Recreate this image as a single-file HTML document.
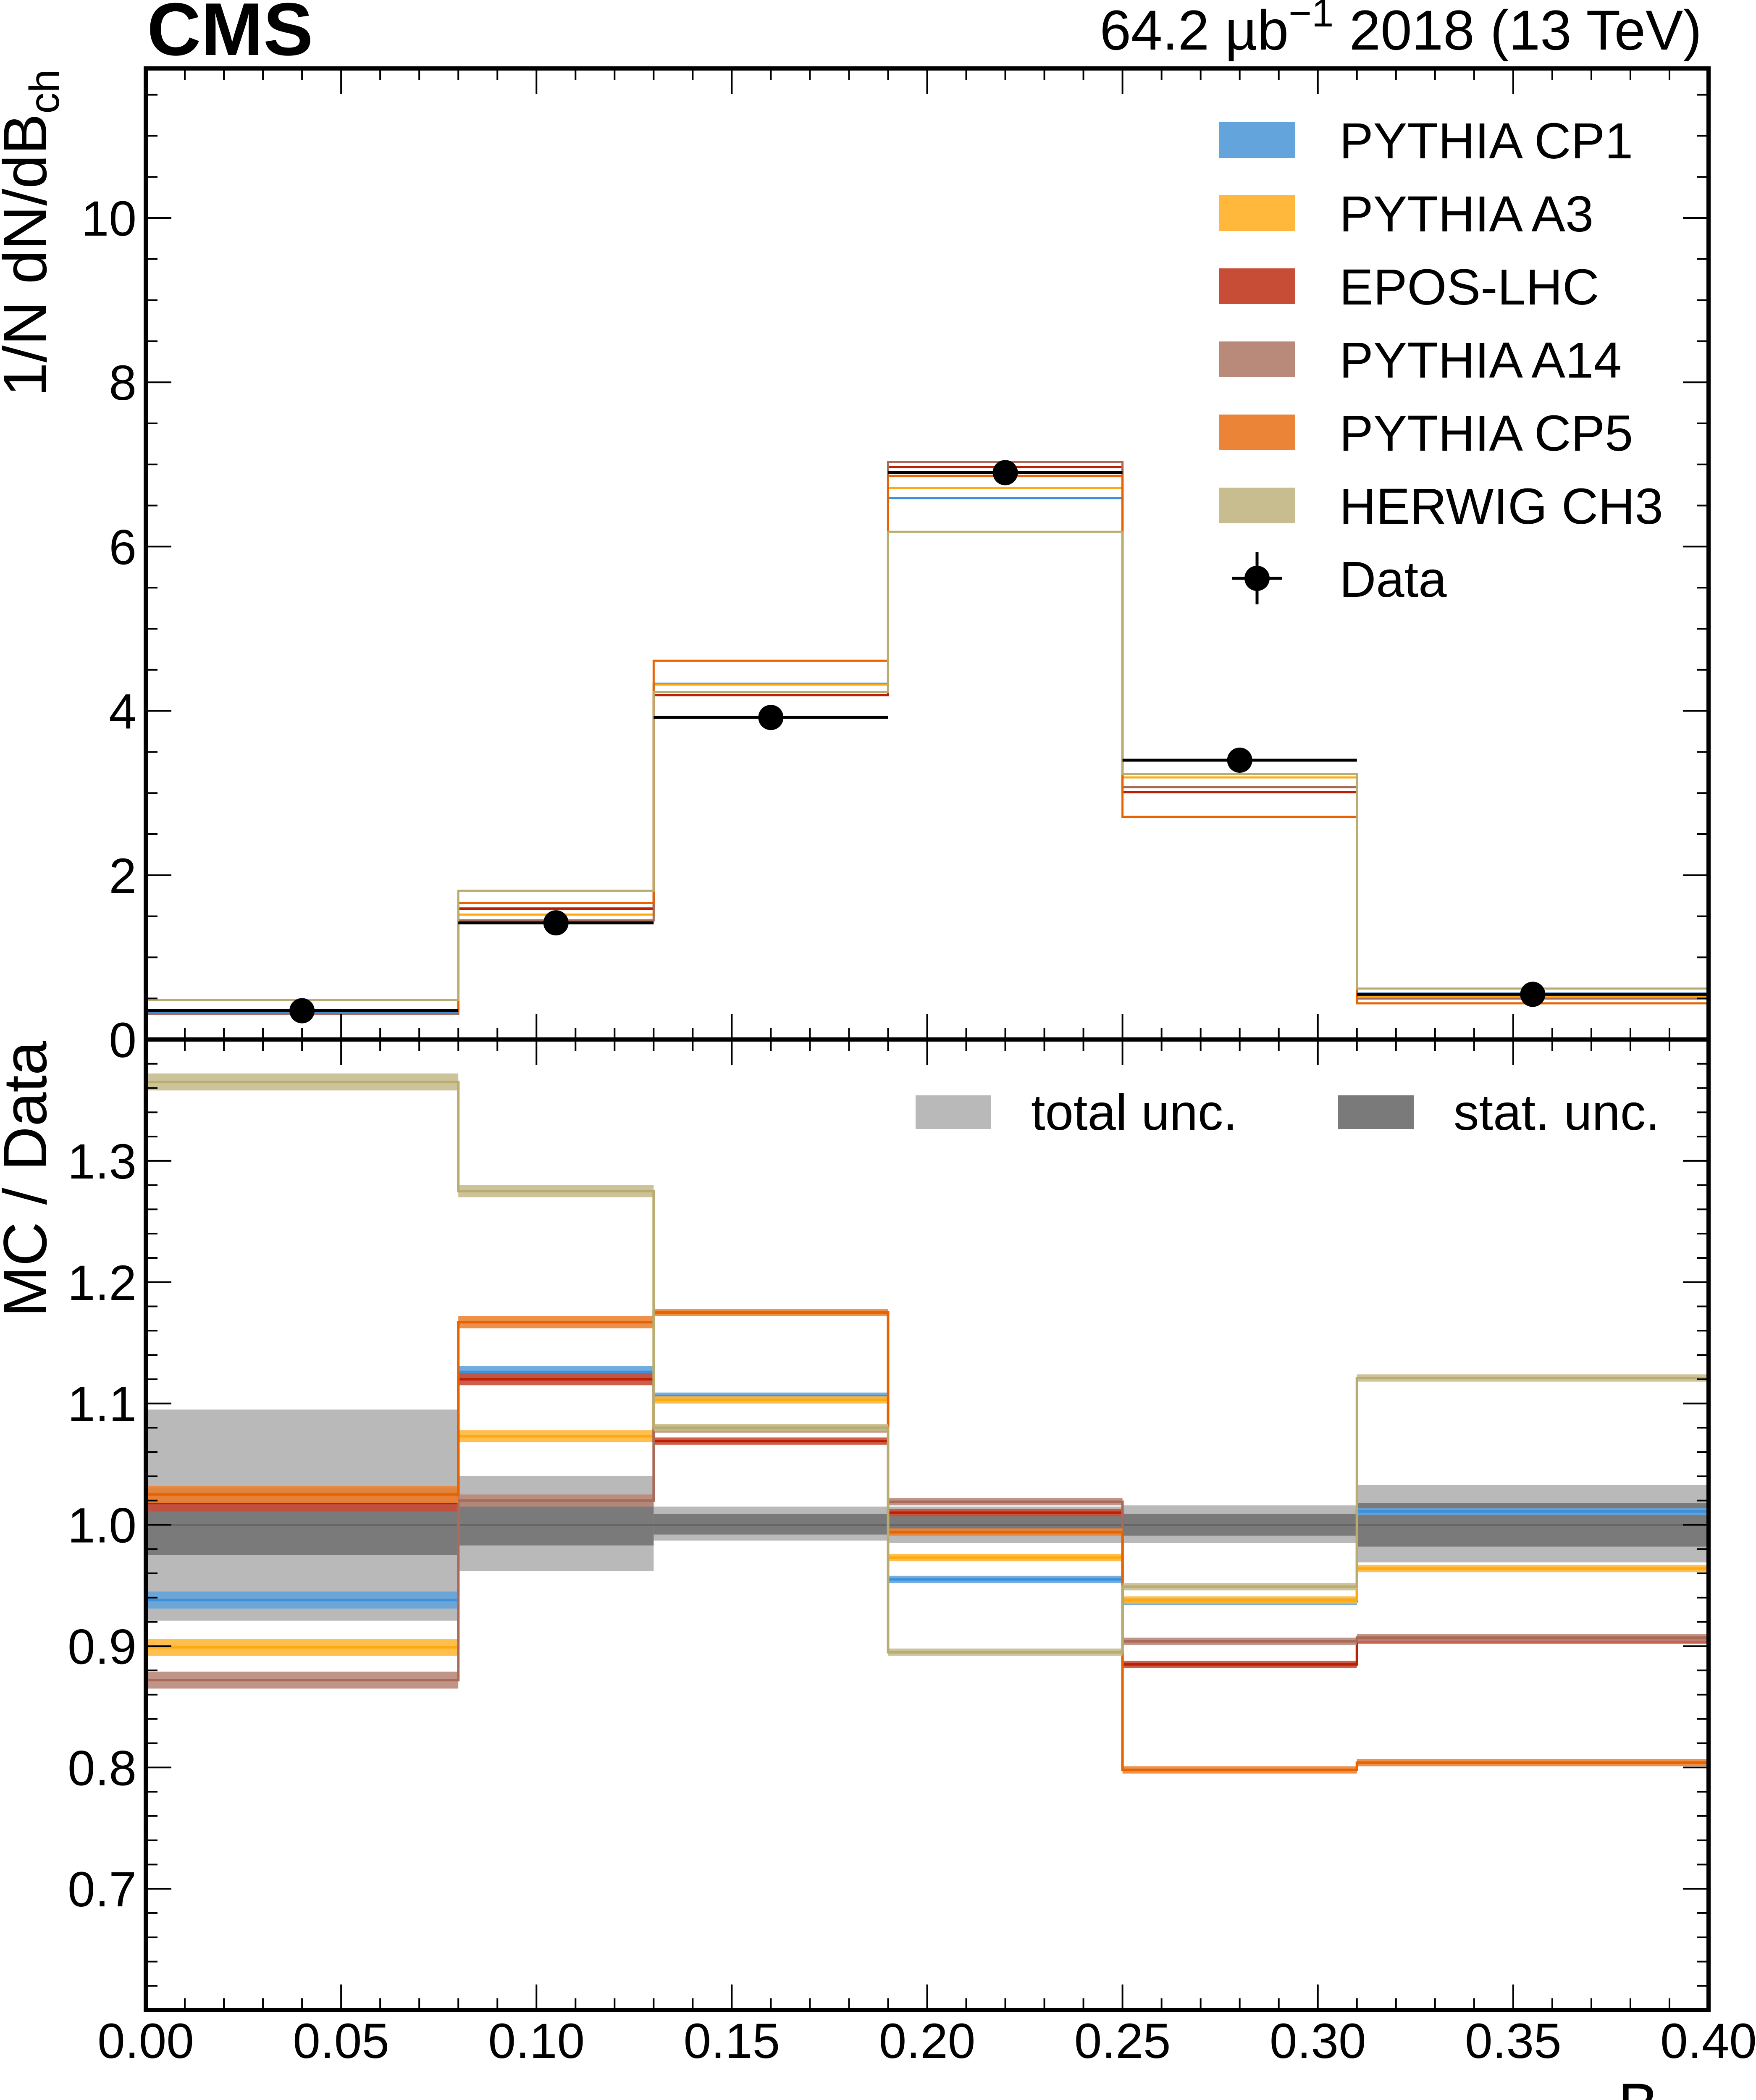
<!DOCTYPE html>
<html><head><meta charset="utf-8">
<style>
html,body{margin:0;padding:0;background:#fff;width:4181px;height:5087px;overflow:hidden;}
svg{display:block;position:absolute;left:0;top:0;}
text{font-family:"Liberation Sans",Arial,sans-serif;}
</style></head>
<body>
<svg id="chart" width="4181" height="5087" viewBox="0 0 4181 5087" xmlns="http://www.w3.org/2000/svg">
  <text x="350" y="131" font-size="178" font-weight="bold">CMS</text>
  <text x="4052" y="118" font-size="134" text-anchor="end">64.2 µb<tspan dy="-55" font-size="94">−1</tspan><tspan dy="55"> 2018 (13 TeV)</tspan></text>
  <g id="bands"></g>
  <g id="series"></g>
  <g id="data"></g>
  <g id="axes"></g>
  <g id="legend"></g>
  <text transform="translate(110,165) rotate(-90)" font-size="146" text-anchor="end">1/N dN/dB<tspan dy="30" font-size="100">ch</tspan></text>
  <text transform="translate(110,2479) rotate(-90)" font-size="146" text-anchor="end">MC / Data</text>
  <text x="4055" y="5062" font-size="146" text-anchor="end">B<tspan dy="22" font-size="100">ch</tspan></text>
</svg>
<script>
const binEdges = [0, 0.08, 0.13, 0.19, 0.25, 0.31, 0.40];
const dataValues = [0.35, 1.42, 3.92, 6.90, 3.40, 0.55];
const cp1Upper = [0.33, 1.60, 4.33, 6.59, 3.19, 0.56];
const a3Upper = [0.31, 1.52, 4.32, 6.71, 3.19, 0.53];
const eposUpper = [0.36, 1.59, 4.19, 6.97, 3.01, 0.50];
const a14Upper = [0.31, 1.45, 4.23, 7.03, 3.07, 0.50];
const cp5Upper = [0.36, 1.66, 4.61, 6.86, 2.71, 0.44];
const ch3Upper = [0.48, 1.81, 4.23, 6.18, 3.23, 0.62];
const cp1Ratio = [0.938, 1.126, 1.106, 0.955, 0.937, 1.011];
const a3Ratio = [0.899, 1.073, 1.103, 0.973, 0.938, 0.964];
const eposRatio = [1.018, 1.120, 1.069, 1.010, 0.885, 0.905];
const a14Ratio = [0.872, 1.020, 1.079, 1.019, 0.904, 0.907];
const cp5Ratio = [1.025, 1.167, 1.175, 0.994, 0.798, 0.804];
const ch3Ratio = [1.365, 1.275, 1.080, 0.895, 0.949, 1.121];
const mcStat = [0.007, 0.005, 0.003, 0.003, 0.003, 0.003];
const totalUp = [1.095, 1.040, 1.015, 1.015, 1.016, 1.033];
const totalDn = [0.921, 0.962, 0.987, 0.985, 0.985, 0.969];
const statUp = [1.030, 1.020, 1.009, 1.008, 1.009, 1.018];
const statDn = [0.975, 0.983, 0.992, 0.992, 0.991, 0.982];
const xTicks = ["0.00","0.05","0.10","0.15","0.20","0.25","0.30","0.35","0.40"];
const upperTicks = ["0","2","4","6","8","10"];
const lowerTicks = ["0.7","0.8","0.9","1.0","1.1","1.2","1.3"];

const NS = "http://www.w3.org/2000/svg";
const X0 = 347, X1 = 4068, UT = 163, MID = 2475, LB = 4786;
const xs = v => X0 + (v / 0.40) * (X1 - X0);
const yU = v => MID - (v / 11.82) * (MID - UT);
const yL = v => LB - ((v - 0.6) / 0.8) * (LB - MID);
function mk(tag, attrs, parent) {
  const e = document.createElementNS(NS, tag);
  for (const k in attrs) e.setAttribute(k, attrs[k]);
  parent.appendChild(e);
  return e;
}
const gB = document.getElementById('bands');
const gS = document.getElementById('series');
const gD = document.getElementById('data');
const gA = document.getElementById('axes');
const gL = document.getElementById('legend');

for (let i = 0; i < 6; i++) {
  const t = mk('rect', {x: xs(binEdges[i]), y: yL(totalUp[i]), width: xs(binEdges[i+1]) - xs(binEdges[i]), height: yL(totalDn[i]) - yL(totalUp[i]), fill: '#b9b9b9'}, gB);
  
  
}
for (let i = 0; i < 6; i++) {
  const s = mk('rect', {x: xs(binEdges[i]), y: yL(statUp[i]), width: xs(binEdges[i+1]) - xs(binEdges[i]), height: yL(statDn[i]) - yL(statUp[i]), fill: '#7a7a7a'}, gB);
  
  
}
const refLine = mk('line', {x1: X0, x2: X1, y1: yL(1), y2: yL(1), stroke: '#666', 'stroke-width': 5}, gB);



const models = [
  {name: 'pythia-cp1', up: cp1Upper, r: cp1Ratio, fill: '#64a4dd', line: '#3f90da'},
  {name: 'pythia-a3', up: a3Upper, r: a3Ratio, fill: '#ffb83c', line: '#ffa90e'},
  {name: 'epos-lhc', up: eposUpper, r: eposRatio, fill: '#c84d37', line: '#bd1f01'},
  {name: 'pythia-a14', up: a14Upper, r: a14Ratio, fill: '#b9897a', line: '#a96b59'},
  {name: 'pythia-cp5', up: cp5Upper, r: cp5Ratio, fill: '#eb8436', line: '#e76300'},
  {name: 'herwig-ch3', up: ch3Upper, r: ch3Ratio, fill: '#c7bd8f', line: '#b9ac70'}
];
function stepPath(vals, yf) {
  let d = '';
  for (let i = 0; i < vals.length; i++) {
    const y = yf(vals[i]);
    d += (i === 0 ? 'M' : 'L') + xs(binEdges[i]) + ',' + y + 'L' + xs(binEdges[i+1]) + ',' + y;
  }
  return d;
}
models.forEach(m => {
  for (let i = 0; i < 6; i++) {
    const b = mk('rect', {x: xs(binEdges[i]), y: yL(m.r[i] + mcStat[i]), width: xs(binEdges[i+1]) - xs(binEdges[i]), height: yL(m.r[i] - mcStat[i]) - yL(m.r[i] + mcStat[i]), fill: m.fill, opacity: 0.9}, gS);
    
    
  }
  const pl = mk('path', {d: stepPath(m.r, yL), fill: 'none', stroke: m.line, 'stroke-width': 6}, gS);
  
  
  const pu = mk('path', {d: stepPath(m.up, yU), fill: 'none', stroke: m.line, 'stroke-width': 5}, gS);
  
  
});

for (let i = 0; i < 6; i++) {
  const y = yU(dataValues[i]);
  const hl = mk('line', {x1: xs(binEdges[i]), x2: xs(binEdges[i+1]), y1: y, y2: y, stroke: '#000', 'stroke-width': 7}, gD);
  
  
  const c = mk('circle', {cx: xs((binEdges[i] + binEdges[i+1]) / 2), cy: y, r: 30, fill: '#000'}, gD);
  
  
}

[[UT, MID], [MID, LB]].forEach((p, k) => {
  const f = mk('rect', {x: X0, y: p[0], width: X1 - X0, height: p[1] - p[0], fill: 'none', stroke: '#000', 'stroke-width': 10}, gA);
  
  
});
for (let j = 0; j <= 40; j++) {
  const x = xs(j * 0.01);
  const major = j % 5 === 0;
  const len = major ? 61 : 28;
  [[UT, 1], [MID, -1], [MID, 1], [LB, -1]].forEach(p => {
    const t = mk('line', {x1: x, x2: x, y1: p[0], y2: p[0] + p[1] * len, stroke: '#000', 'stroke-width': 4}, gA);
    
    
  });
}
xTicks.forEach((lab, j) => {
  const t = mk('text', {x: xs(j * 0.05), y: 4900, 'font-size': 118, 'text-anchor': 'middle'}, gA);
  t.textContent = lab;
  
  
});
for (let j = 0; j <= 23; j++) {
  const v = j * 0.5;
  const y = yU(v);
  const major = j % 4 === 0;
  const len = major ? 61 : 28;
  [[X0, 1], [X1, -1]].forEach(p => {
    const t = mk('line', {x1: p[0], x2: p[0] + p[1] * len, y1: y, y2: y, stroke: '#000', 'stroke-width': 4}, gA);
    
    
  });
}
upperTicks.forEach(lab => {
  const t = mk('text', {x: 325, y: yU(parseFloat(lab)) + 42, 'font-size': 118, 'text-anchor': 'end'}, gA);
  t.textContent = lab;
  
  
});
for (let j = 1; j < 40; j++) {
  const v = 0.6 + j * 0.02;
  const y = yL(v);
  const major = j % 5 === 0;
  const len = major ? 61 : 28;
  [[X0, 1], [X1, -1]].forEach(p => {
    const t = mk('line', {x1: p[0], x2: p[0] + p[1] * len, y1: y, y2: y, stroke: '#000', 'stroke-width': 4}, gA);
    
    
  });
}
lowerTicks.forEach(lab => {
  const t = mk('text', {x: 325, y: yL(parseFloat(lab)) + 42, 'font-size': 118, 'text-anchor': 'end'}, gA);
  t.textContent = lab;
  
  
});

const legNames = ['PYTHIA CP1', 'PYTHIA A3', 'EPOS-LHC', 'PYTHIA A14', 'PYTHIA CP5', 'HERWIG CH3'];
models.forEach((m, i) => {
  const y0 = 291 + i * 174;
  const r = mk('rect', {x: 2903, y: y0, width: 181, height: 85, fill: m.fill}, gL);
  
  
  const t = mk('text', {x: 3189, y: y0 + 86, 'font-size': 121}, gL);
  t.textContent = legNames[i];
  
  
});
{
  const yc = 291 + 6 * 174 + 42;
  const l1 = mk('line', {x1: 2933, x2: 3053, y1: yc, y2: yc, stroke: '#000', 'stroke-width': 7}, gL);
  
  
  const l2 = mk('line', {x1: 2993, x2: 2993, y1: yc - 62, y2: yc + 62, stroke: '#000', 'stroke-width': 7}, gL);
  
  
  const c = mk('circle', {cx: 2993, cy: yc, r: 30, fill: '#000'}, gL);
  
  
  const t = mk('text', {x: 3189, y: yc + 44, 'font-size': 121}, gL);
  t.textContent = 'Data';
  
  
}
[['total unc.', '#b9b9b9', 2180, 2455], ['stat. unc.', '#7a7a7a', 3186, 3461]].forEach(e => {
  const r = mk('rect', {x: e[2], y: 2608, width: 180, height: 80, fill: e[1]}, gL);
  
  
  const t = mk('text', {x: e[3], y: 2690, 'font-size': 121}, gL);
  t.textContent = e[0];
  
  
});
</script>
</body></html>
